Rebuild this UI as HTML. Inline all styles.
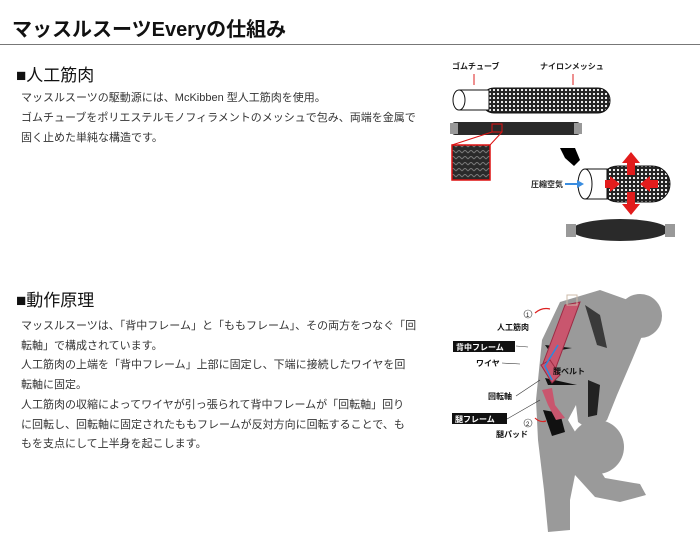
<!DOCTYPE html>
<html><head><meta charset="utf-8"><style>
body{margin:0;width:700px;height:540px;background:#fff;position:relative;overflow:hidden;font-family:"Liberation Sans","Noto Sans CJK JP",sans-serif;color:#222}
h1{position:absolute;left:12px;top:13px;margin:0;font-size:20px;font-weight:bold;color:#111}
.hr{position:absolute;left:0;top:44px;width:700px;height:1px;background:#777}
.h2{position:absolute;left:16px;font-size:17px;color:#111}
.p{position:absolute;left:21px;font-size:11px;line-height:20px;color:#333;white-space:nowrap}
</style></head><body>
<h1>マッスルスーツEveryの仕組み</h1>
<div class="hr"></div>
<div class="h2" style="top:61px">■人工筋肉</div>
<div class="p" style="top:88px">マッスルスーツの駆動源には、McKibben 型人工筋肉を使用。<br>ゴムチューブをポリエステルモノフィラメントのメッシュで包み、両端を金属で<br>固く止めた単純な構造です。</div>
<div class="h2" style="top:286px">■動作原理</div>
<div class="p" style="top:317px;line-height:19.7px">マッスルスーツは、「背中フレーム」と「ももフレーム」、その両方をつなぐ「回<br>転軸」で構成されています。<br>人工筋肉の上端を「背中フレーム」上部に固定し、下端に接続したワイヤを回<br>転軸に固定。<br>人工筋肉の収縮によってワイヤが引っ張られて背中フレームが「回転軸」回り<br>に回転し、回転軸に固定されたももフレームが反対方向に回転することで、も<br>もを支点にして上半身を起こします。</div>

<svg width="700" height="540" style="position:absolute;left:0;top:0" font-family="Liberation Sans,Noto Sans CJK JP,sans-serif">
<defs>
<pattern id="m" width="4" height="4" patternUnits="userSpaceOnUse"><rect width="4" height="4" fill="#222"/><circle cx="2" cy="2" r="1.1" fill="#fff"/></pattern>
<pattern id="w" width="6" height="6" patternUnits="userSpaceOnUse"><rect width="6" height="6" fill="#2a2a2a"/><path d="M0 3 L3 0 L6 3" stroke="#777" fill="none" stroke-width="1"/></pattern>
</defs>
<!-- top diagram -->
<text x="452" y="69" font-size="8" font-weight="bold" fill="#222">ゴムチューブ</text>
<text x="540" y="69" font-size="8" font-weight="bold" fill="#222">ナイロンメッシュ</text>
<line x1="474" y1="74" x2="474" y2="85" stroke="#d22"/><line x1="573" y1="74" x2="573" y2="85" stroke="#d22"/>
<rect x="482" y="88" width="128" height="25" rx="12" fill="url(#m)" stroke="#111"/>
<rect x="459" y="90" width="30" height="20" fill="#fff" stroke="#111"/>
<ellipse cx="459" cy="100" rx="6" ry="10" fill="#fff" stroke="#111"/>
<rect x="452" y="122" width="128" height="13" rx="3" fill="#2a2a2a"/>
<rect x="450" y="123" width="8" height="11" fill="#999"/><rect x="574" y="123" width="8" height="11" fill="#999"/>
<rect x="492" y="124" width="10" height="8" fill="none" stroke="#d11"/>
<line x1="492" y1="132" x2="452" y2="145" stroke="#d11"/><line x1="502" y1="132" x2="490" y2="145" stroke="#d11"/>
<rect x="452" y="145" width="38" height="35" fill="url(#w)" stroke="#d11" stroke-width="1.5"/>
<polygon points="560,148 575,148 580,160 574,166 565,158" fill="#000"/>
<rect x="600" y="166" width="70" height="36" rx="18" fill="url(#m)" stroke="#111"/>
<rect x="585" y="169" width="22" height="30" fill="#fff" stroke="#111"/>
<ellipse cx="585" cy="184" rx="7" ry="15" fill="#fff" stroke="#111"/>
<g fill="#e21c1c">
<polygon points="631,152 622,163 627,163 627,175 635,175 635,163 640,163"/>
<polygon points="631,215 622,204 627,204 627,192 635,192 635,204 640,204"/>
<polygon points="620,184 610,176 610,180 605,180 605,188 610,188 610,192"/>
<polygon points="640,184 650,176 650,180 658,180 658,188 650,188 650,192"/>
</g>
<text x="531" y="187" font-size="8" font-weight="bold" fill="#222">圧縮空気</text>
<line x1="565" y1="184" x2="580" y2="184" stroke="#3a8de0" stroke-width="2"/>
<polygon points="584,184 577,180 577,188" fill="#3a8de0"/>
<ellipse cx="620" cy="230" rx="48" ry="11" fill="#2a2a2a"/>
<rect x="566" y="224" width="10" height="13" fill="#999"/><rect x="665" y="224" width="10" height="13" fill="#999"/>
<!-- bottom: silhouette -->
<g fill="#9a9a9a">
<circle cx="640" cy="316" r="22"/>
<path d="M560 302 L600 290 L628 300 L642 336 L632 360 L617 395 L607 420 L592 432 L578 422 L576 405 L568 420 L580 440 L605 478 L640 484 L646 495 L620 502 L595 497 L575 475 L570 500 L570 530 L548 532 L544 490 L538 440 L536 400 L542 340 Z"/>
<circle cx="597" cy="447" r="27"/>
</g>
<path d="M585 305 L600 315 L607 348 L597 345 Z" fill="#3a3a3a"/>
<path d="M545 345 L572 348 L550 352 Z" fill="#111"/>
<path d="M545 378 L577 385 L548 385 Z" fill="#111"/>
<path d="M543 410 L560 413 L565 432 L552 436 Z" fill="#111"/>
<path d="M588 380 L600 385 L597 415 L588 417 Z" fill="#222"/>
<path d="M565 305 L580 302 L555 370 L542 366 Z" fill="#c9566e" stroke="#9b2b44"/>
<path d="M541 365 L550 360 L560 375 L552 383 Z" fill="#c9566e" stroke="#9b2b44"/>
<path d="M542 390 L552 388 L555 405 L565 418 L556 420 L548 405 Z" fill="#c9566e"/>
<polyline points="558,345 545,366 552,380" fill="none" stroke="#2a8ae0" stroke-width="1.5"/>
<rect x="567" y="295" width="10" height="10" fill="none" stroke="#cba"/>
<g font-size="8" font-weight="bold" fill="#111">
<circle cx="528" cy="314" r="4" fill="none" stroke="#444" stroke-width="0.6"/><text x="526" y="317" font-size="6" font-weight="normal">1</text>
<text x="497" y="330">人工筋肉</text>
<rect x="453" y="341" width="62" height="11" fill="#111"/><text x="456" y="350" fill="#fff">背中フレーム</text>
<line x1="516" y1="346" x2="528" y2="347" stroke="#333" stroke-width="0.6"/>
<text x="476" y="366">ワイヤ</text>
<line x1="502" y1="363" x2="520" y2="364" stroke="#333" stroke-width="0.6"/>
<text x="553" y="374">腰ベルト</text>
<text x="488" y="399">回転軸</text>
<line x1="516" y1="396" x2="540" y2="380" stroke="#333" stroke-width="0.6"/>
<rect x="452" y="413" width="55" height="11" fill="#111"/><text x="455" y="422" fill="#fff">腿フレーム</text>
<line x1="507" y1="419" x2="540" y2="400" stroke="#333" stroke-width="0.6"/>
<circle cx="528" cy="423" r="4" fill="none" stroke="#444" stroke-width="0.6"/><text x="526" y="426" font-size="6" font-weight="normal">2</text>
<text x="496" y="437">腿パッド</text>
</g>
<path d="M535 313 Q542 307 550 309" fill="none" stroke="#d22" stroke-width="1.2"/>
<path d="M535 418 Q540 423 546 421" fill="none" stroke="#d22" stroke-width="1.2"/>
</svg>
</body></html>
